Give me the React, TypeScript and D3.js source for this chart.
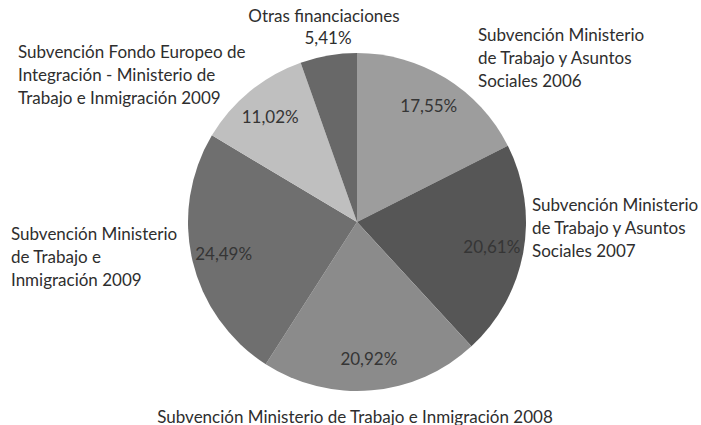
import React, { useRef, useEffect } from 'react';
import * as d3 from 'd3';

// values (percent of total funding)
const categories = [
  'Subvención Ministerio de Trabajo y Asuntos Sociales 2006',
  'Subvención Ministerio de Trabajo y Asuntos Sociales 2007',
  'Subvención Ministerio de Trabajo e Inmigración 2008',
  'Subvención Ministerio de Trabajo e Inmigración 2009',
  'Subvención Fondo Europeo de Integración - Ministerio de Trabajo e Inmigración 2009',
  'Otras financiaciones',
];
const values = [17.55, 20.61, 20.92, 24.49, 11.02, 5.41];
const valueLabels = ['17,55%', '20,61%', '20,92%', '24,49%', '11,02%', '5,41%'];

// how each category name is broken into lines on the chart
const categoryLines = [
  ['Subvención Ministerio', 'de Trabajo y Asuntos', 'Sociales 2006'],
  ['Subvención Ministerio', 'de Trabajo y Asuntos', 'Sociales 2007'],
  ['Subvención Ministerio de Trabajo e Inmigración 2008'],
  ['Subvención Ministerio', 'de Trabajo e', 'Inmigración 2009'],
  ['Subvención Fondo Europeo de', 'Integración - Ministerio de', 'Trabajo e Inmigración 2009'],
  ['Otras financiaciones'],
];

const colors = ['#9d9d9d', '#565656', '#8b8b8b', '#6f6f6f', '#bfbfbf', '#686868'];

// layout of the outer category labels (x, first line y, anchor)
const labelLayout: { x: number; y: number; anchor: string }[] = [
  { x: 478, y: 34, anchor: 'start' },
  { x: 532, y: 204, anchor: 'start' },
  { x: 355, y: 416, anchor: 'middle' },
  { x: 11, y: 233, anchor: 'start' },
  { x: 18, y: 51, anchor: 'start' },
  { x: 324, y: 15, anchor: 'middle' },
];

const WIDTH = 701;
const HEIGHT = 425;
const CX = 357;
const CY = 222;
const RADIUS = 169;
const LINE_H = 23;
const FONT = 'Lato, "DejaVu Sans", sans-serif';

function PieChart(): React.ReactElement {
  const svgRef = useRef<SVGSVGElement | null>(null);

  useEffect(() => {
    const data = values.map((v, i) => ({ value: v, i }));

    const pie = d3.pie<{ value: number; i: number }>()
      .sort(null)
      .value((d) => d.value);

    const arc = d3.arc<d3.PieArcDatum<{ value: number; i: number }>>()
      .innerRadius(0)
      .outerRadius(RADIUS);

    // centroid of this arc lies at radius 137
    const labelArc = d3.arc<d3.PieArcDatum<{ value: number; i: number }>>()
      .innerRadius(137 * 2)
      .outerRadius(0);

    const svg = d3.select(svgRef.current);
    svg.selectAll('*').remove();

    const g = svg.append('g').attr('transform', `translate(${CX}, ${CY})`);
    const arcs = pie(data);

    g.selectAll('path')
      .data(arcs)
      .enter()
      .append('path')
      .attr('d', arc)
      .attr('fill', (d) => colors[d.data.i]);

    // percentage labels inside slices (the small last slice is labelled outside)
    g.selectAll('text.pct')
      .data(arcs.filter((d) => d.data.i !== 5))
      .enter()
      .append('text')
      .attr('class', 'pct')
      .attr('transform', (d) => `translate(${labelArc.centroid(d)})`)
      .attr('text-anchor', 'middle')
      .attr('dominant-baseline', 'central')
      .attr('fill', '#353535')
      .style('font-family', FONT)
      .style('font-size', '17px')
      .text((d) => valueLabels[d.data.i]);

    // outer category labels
    const cat = svg.append('g')
      .style('font-family', FONT)
      .style('font-size', '17px')
      .attr('fill', '#2e2e2e');

    categoryLines.forEach((lines, i) => {
      const pos = labelLayout[i];
      const t = cat.append('text')
        .attr('text-anchor', pos.anchor)
        .attr('dominant-baseline', 'central');
      lines.forEach((line, k) => {
        t.append('tspan')
          .attr('x', pos.x)
          .attr('y', pos.y + k * LINE_H)
          .text(line);
      });
    });

    // value of the small slice sits under its name
    const otras = labelLayout[5];
    cat.append('text')
      .attr('x', otras.x + 4)
      .attr('y', otras.y + 22)
      .attr('text-anchor', 'middle')
      .attr('dominant-baseline', 'central')
      .text(valueLabels[5]);
  }, []);

  return (
    <svg
      ref={svgRef}
      width={WIDTH}
      height={HEIGHT}
      style={{ position: 'absolute', left: 0, top: 0, background: '#ffffff' }}
    />
  );
}

export default function App(): React.ReactElement {
  return <PieChart />;
}
